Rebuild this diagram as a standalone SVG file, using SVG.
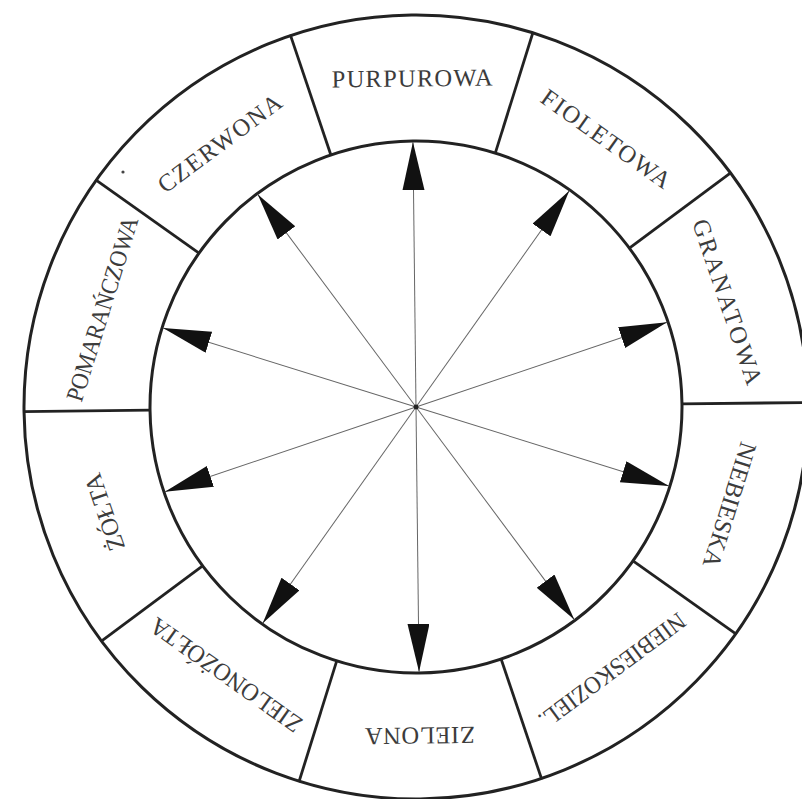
<svg xmlns="http://www.w3.org/2000/svg" width="802" height="799" viewBox="0 0 802 799">
<defs>
<style>
.ring{fill:none;stroke:#222;stroke-width:3}
.sep{stroke:#222;stroke-width:2.8;stroke-linecap:butt}
.ray{stroke:#666;stroke-width:1}
.lbl{font-family:"Liberation Serif","Times New Roman",serif;font-size:24.5px;fill:#3c3c3c;text-anchor:middle}
</style>
<marker id="ah" markerUnits="userSpaceOnUse" markerWidth="50" markerHeight="24" refX="48" refY="11" orient="auto" viewBox="0 0 50 24">
<path d="M0,0 L48,11 L0,22 Z" fill="#111"/>
</marker>
</defs>
<rect width="802" height="799" fill="#fff"/>
<g transform="translate(416 407) rotate(-0.66)">
<g id="ring">
<circle class="ring" cx="0" cy="0" r="266"/>
<circle class="ring" cx="0" cy="0" r="392"/>
</g>
<g id="dividers">
<line class="sep" x1="266" y1="0" x2="393" y2="0" transform="rotate(-108)"/>
<line class="sep" x1="266" y1="0" x2="393" y2="0" transform="rotate(-72)"/>
<line class="sep" x1="266" y1="0" x2="393" y2="0" transform="rotate(-36)"/>
<line class="sep" x1="266" y1="0" x2="393" y2="0" transform="rotate(0)"/>
<line class="sep" x1="266" y1="0" x2="393" y2="0" transform="rotate(36)"/>
<line class="sep" x1="266" y1="0" x2="393" y2="0" transform="rotate(72)"/>
<line class="sep" x1="266" y1="0" x2="393" y2="0" transform="rotate(108)"/>
<line class="sep" x1="266" y1="0" x2="393" y2="0" transform="rotate(144)"/>
<line class="sep" x1="266" y1="0" x2="393" y2="0" transform="rotate(180)"/>
<line class="sep" x1="266" y1="0" x2="393" y2="0" transform="rotate(216)"/>
</g>
<g id="seg-purpurowa"><text class="lbl" transform="rotate(-90) translate(329 0) rotate(90)" y="8.5" textLength="161" lengthAdjust="spacing">PURPUROWA</text></g>
<g id="seg-fioletowa"><text class="lbl" transform="rotate(-54) translate(329 0) rotate(90)" y="8.5" textLength="153" lengthAdjust="spacing">FIOLETOWA</text></g>
<g id="seg-granatowa"><text class="lbl" transform="rotate(-18) translate(329 0) rotate(90)" y="8.5" textLength="173" lengthAdjust="spacing">GRANATOWA</text></g>
<g id="seg-niebieska"><text class="lbl" transform="rotate(18) translate(329 0) rotate(90)" y="8.5" textLength="130" lengthAdjust="spacing">NIEBIESKA</text></g>
<g id="seg-niebieskoziel"><text class="lbl" transform="rotate(54) translate(329 0) rotate(90)" y="8.5" textLength="176" lengthAdjust="spacingAndGlyphs">NIEBIESKOZIEL.</text></g>
<g id="seg-zielona"><text class="lbl" transform="rotate(90) translate(329 0) rotate(90)" y="8.5" textLength="110" lengthAdjust="spacing">ZIELONA</text></g>
<g id="seg-zielonozolta"><text class="lbl" transform="rotate(126) translate(329 0) rotate(90)" y="8.5" textLength="180" lengthAdjust="spacingAndGlyphs">ZIELONOŻÓŁTA</text></g>
<g id="seg-zolta"><text class="lbl" transform="rotate(162) translate(329 0) rotate(90)" y="8.5" textLength="80" lengthAdjust="spacingAndGlyphs">ŻÓŁTA</text></g>
<g id="seg-pomaranczowa"><text class="lbl" transform="rotate(198) translate(329 0) rotate(90)" y="8.5" textLength="192" lengthAdjust="spacingAndGlyphs">POMARAŃCZOWA</text></g>
<g id="seg-czerwona"><text class="lbl" transform="rotate(234) translate(329 0) rotate(90)" y="8.5" textLength="148" lengthAdjust="spacing">CZERWONA</text></g>
<g id="connectors">
<line class="ray" x1="0" y1="0" x2="265" y2="0" marker-end="url(#ah)" transform="rotate(-90)"/>
<line class="ray" x1="0" y1="0" x2="265" y2="0" marker-end="url(#ah)" transform="rotate(-54)"/>
<line class="ray" x1="0" y1="0" x2="265" y2="0" marker-end="url(#ah)" transform="rotate(-18)"/>
<line class="ray" x1="0" y1="0" x2="265" y2="0" marker-end="url(#ah)" transform="rotate(18)"/>
<line class="ray" x1="0" y1="0" x2="265" y2="0" marker-end="url(#ah)" transform="rotate(54)"/>
<line class="ray" x1="0" y1="0" x2="265" y2="0" marker-end="url(#ah)" transform="rotate(90)"/>
<line class="ray" x1="0" y1="0" x2="265" y2="0" marker-end="url(#ah)" transform="rotate(126)"/>
<line class="ray" x1="0" y1="0" x2="265" y2="0" marker-end="url(#ah)" transform="rotate(162)"/>
<line class="ray" x1="0" y1="0" x2="265" y2="0" marker-end="url(#ah)" transform="rotate(198)"/>
<line class="ray" x1="0" y1="0" x2="265" y2="0" marker-end="url(#ah)" transform="rotate(234)"/>
</g>
<g id="center"><circle cx="0" cy="0" r="2.5" fill="#222"/></g>
</g>
<circle cx="123" cy="172" r="1.6" fill="#444"/>
</svg>
